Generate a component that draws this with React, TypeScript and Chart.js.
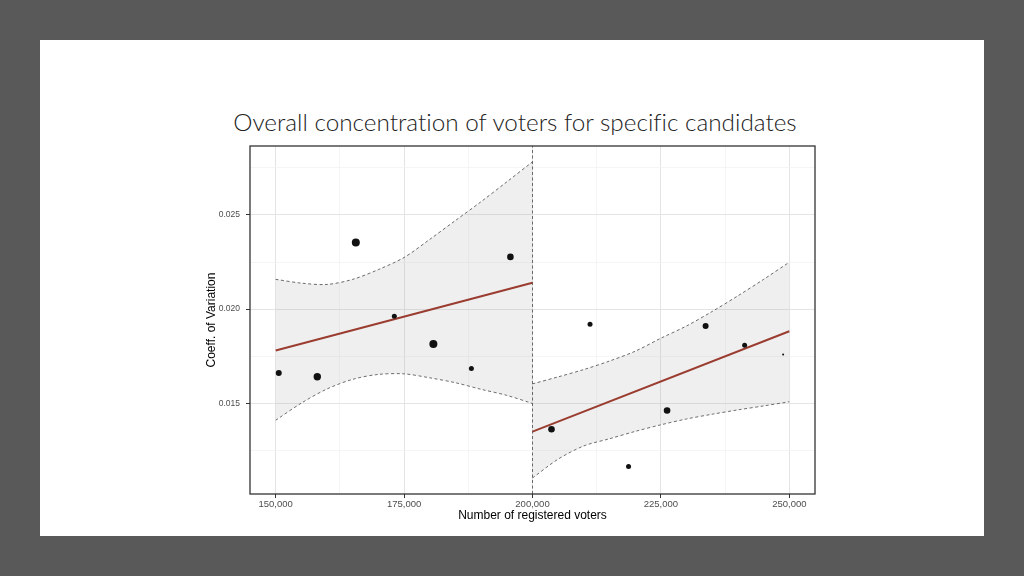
import React, { useEffect, useRef } from "react";
import { Chart, registerables } from "chart.js";

Chart.register(...registerables);

const TITLE = "Overall concentration of voters for specific candidates";
const X_LABEL = "Number of registered voters";
const Y_LABEL = "Coeff. of Variation";

const X_MIN = 145000;
const X_MAX = 255000;
const Y_MIN = 0.0102;
const Y_MAX = 0.02865;
const CUTOFF = 200000;

const xMajorTicks = [150000, 175000, 200000, 225000, 250000];
const xMinorTicks = [162500, 187500, 212500, 237500];
const yMajorTicks = [0.015, 0.02, 0.025];
const yMinorTicks = [0.0125, 0.0175, 0.0225, 0.0275];

const voters = [150600, 158100, 165600, 173100, 180700, 188100, 195700, 203700, 211200, 218700, 226200, 233700, 241300, 248800];
const coeffVar = [0.01662, 0.01642, 0.02354, 0.01963, 0.01815, 0.01685, 0.02277, 0.01363, 0.0192, 0.01166, 0.01463, 0.01911, 0.01808, 0.0176];
const pointSize = [3, 3.7, 4, 2.5, 4, 2.5, 3.3, 3.3, 2.5, 2.5, 3.3, 3, 2.5, 1];

const fitLeftX = [150000, 200000];
const fitLeftY = [0.01781, 0.0214];
const fitRightX = [200000, 250000];
const fitRightY = [0.01351, 0.01883];

const bandLeftX = [150000, 155000, 160000, 165000, 170000, 175000, 180000, 185000, 190000, 195000, 200000];
const bandLeftUpper = [0.02158, 0.02138, 0.02131, 0.02158, 0.0221, 0.02274, 0.0237, 0.0247, 0.0257, 0.02675, 0.02781];
const bandLeftLower = [0.01411, 0.01502, 0.01577, 0.01628, 0.01654, 0.01657, 0.01636, 0.0161, 0.01575, 0.01543, 0.015];

const bandRightX = [200000, 205000, 210000, 215000, 220000, 225000, 230000, 235000, 240000, 245000, 250000];
const bandRightUpper = [0.01604, 0.01641, 0.0168, 0.01725, 0.01777, 0.01846, 0.01911, 0.01988, 0.02071, 0.02158, 0.02249];
const bandRightLower = [0.01105, 0.01205, 0.01275, 0.01313, 0.01352, 0.01387, 0.01418, 0.01443, 0.01466, 0.01487, 0.01509];

const toPts = (xs: number[], ys: number[]) => xs.map((x, i) => ({ x, y: ys[i] }));
const has = (arr: number[], v: number) => arr.some((t) => Math.abs(t - v) < Math.abs(t) * 1e-6);

const FIT_COLOR = "#9a3d30";
const BAND_FILL = "rgba(150,150,150,0.15)";
const DASH_COLOR = "#5a5a5a";
const AXIS_FONT = "'Liberation Sans', Arial, sans-serif";

const framePlugin = {
  id: "frame",
  afterDatasetsDraw(chart: any) {
    const { ctx, chartArea } = chart;
    const { left, top, right, bottom } = chartArea;
    ctx.save();
    ctx.strokeStyle = "#333333";
    ctx.lineWidth = 1.3;
    ctx.strokeRect(left, top, right - left, bottom - top);
    ctx.restore();
  },
};

export default function App() {
  const canvasRef = useRef<HTMLCanvasElement | null>(null);

  useEffect(() => {
    if (!canvasRef.current) return;
    const bandStyle = {
      type: "line" as const,
      showLine: true,
      borderColor: DASH_COLOR,
      borderWidth: 0.9,
      borderDash: [3, 2.5],
      pointRadius: 0,
      tension: 0.3,
    };
    const chart = new Chart(canvasRef.current, {
      type: "scatter",
      data: {
        datasets: [
          {
            label: "points",
            data: toPts(voters, coeffVar),
            pointRadius: pointSize,
            pointBackgroundColor: "#111111",
            pointBorderWidth: 0,
            showLine: false,
            order: 0,
          },
          {
            type: "line",
            label: "fitLeft",
            data: toPts(fitLeftX, fitLeftY),
            borderColor: FIT_COLOR,
            borderWidth: 2,
            pointRadius: 0,
            fill: false,
            order: 1,
          },
          {
            type: "line",
            label: "fitRight",
            data: toPts(fitRightX, fitRightY),
            borderColor: FIT_COLOR,
            borderWidth: 2,
            pointRadius: 0,
            fill: false,
            order: 1,
          },
          {
            type: "line",
            label: "cutoff",
            data: [
              { x: CUTOFF, y: Y_MIN },
              { x: CUTOFF, y: Y_MAX },
            ],
            borderColor: DASH_COLOR,
            borderWidth: 0.9,
            borderDash: [3, 2.5],
            pointRadius: 0,
            fill: false,
            order: 2,
          },
          {
            ...bandStyle,
            label: "leftUpper",
            data: toPts(bandLeftX, bandLeftUpper),
            fill: "+1",
            backgroundColor: BAND_FILL,
            order: 3,
          },
          {
            ...bandStyle,
            label: "leftLower",
            data: toPts(bandLeftX, bandLeftLower),
            fill: false,
            order: 3,
          },
          {
            ...bandStyle,
            label: "rightUpper",
            data: toPts(bandRightX, bandRightUpper),
            fill: "+1",
            backgroundColor: BAND_FILL,
            order: 3,
          },
          {
            ...bandStyle,
            label: "rightLower",
            data: toPts(bandRightX, bandRightLower),
            fill: false,
            order: 3,
          },
        ] as any,
      },
      options: {
        animation: false,
        responsive: false,
        maintainAspectRatio: false,
        layout: { autoPadding: false, padding: { left: 0, right: 25, top: 6, bottom: 0 } },
        plugins: {
          legend: { display: false },
          tooltip: { enabled: false },
          title: { display: false },
        },
        scales: {
          x: {
            type: "linear",
            min: X_MIN,
            max: X_MAX,
            afterBuildTicks: (scale: any) => {
              scale.ticks = [...xMajorTicks, ...xMinorTicks].sort((a, b) => a - b).map((v) => ({ value: v }));
            },
            afterFit: (scale: any) => {
              scale.height = 36;
              scale.paddingLeft = 0;
              scale.paddingRight = 0;
            },
            border: { display: false },
            grid: {
              color: (c: any) => (has(xMajorTicks, c.tick?.value) ? "#e4e4e4" : "#f2f2f2"),
              lineWidth: (c: any) => (has(xMajorTicks, c.tick?.value) ? 1 : 0.8),
              tickColor: (c: any) => (has(xMajorTicks, c.tick?.value) ? "#333333" : "rgba(0,0,0,0)"),
              tickLength: 4,
              drawTicks: true,
            },
            ticks: {
              padding: 1,
              color: "#4d4d4d",
              font: { family: AXIS_FONT, size: 9.5 },
              maxRotation: 0,
              autoSkip: false,
              callback: (v: any) => (has(xMajorTicks, Number(v)) ? Number(v).toLocaleString("en-US") : ""),
            },
            title: {
              display: true,
              text: X_LABEL,
              color: "#000000",
              font: { family: AXIS_FONT, size: 12 },
              padding: { top: 0, bottom: 7 },
            },
          },
          y: {
            type: "linear",
            min: Y_MIN,
            max: Y_MAX,
            afterBuildTicks: (scale: any) => {
              scale.ticks = [...yMajorTicks, ...yMinorTicks].sort((a, b) => a - b).map((v) => ({ value: v }));
            },
            afterFit: (scale: any) => {
              scale.width = 50;
              scale.paddingTop = 0;
              scale.paddingBottom = 0;
            },
            border: { display: false },
            grid: {
              color: (c: any) => (has(yMajorTicks, c.tick?.value) ? "#e4e4e4" : "#f2f2f2"),
              lineWidth: (c: any) => (has(yMajorTicks, c.tick?.value) ? 1 : 0.8),
              tickColor: (c: any) => (has(yMajorTicks, c.tick?.value) ? "#333333" : "rgba(0,0,0,0)"),
              tickLength: 4,
              drawTicks: true,
            },
            ticks: {
              padding: 6,
              color: "#4d4d4d",
              font: { family: AXIS_FONT, size: 8.5 },
              autoSkip: false,
              callback: (v: any) => (has(yMajorTicks, Number(v)) ? Number(v).toFixed(3) : ""),
            },
            title: {
              display: true,
              text: Y_LABEL,
              color: "#000000",
              font: { family: AXIS_FONT, size: 12 },
              padding: { top: 4, bottom: 0 },
            },
          },
        },
      } as any,
      plugins: [framePlugin],
    });
    return () => chart.destroy();
  }, []);

  return (
    <div style={{ position: "fixed", left: 0, top: 0, width: 1024, height: 576, background: "#595959" }}>
      <div style={{ position: "absolute", left: 40, top: 40, width: 944, height: 496, background: "#ffffff" }}>
        <div
          style={{
            position: "absolute",
            left: 0,
            width: 950,
            top: 65,
            height: 34,
            lineHeight: "34px",
            textAlign: "center",
            fontFamily: "'Lato Light', Lato, 'Open Sans', sans-serif",
            fontWeight: 300,
            fontSize: 24.3,
            fontVariantLigatures: "none",
            color: "#222222",
            whiteSpace: "nowrap",
          }}
        >
          {TITLE}
        </div>
        <canvas
          ref={canvasRef}
          width={640}
          height={390}
          style={{ position: "absolute", left: 160, top: 100, width: 640, height: 390 }}
        />
      </div>
    </div>
  );
}
